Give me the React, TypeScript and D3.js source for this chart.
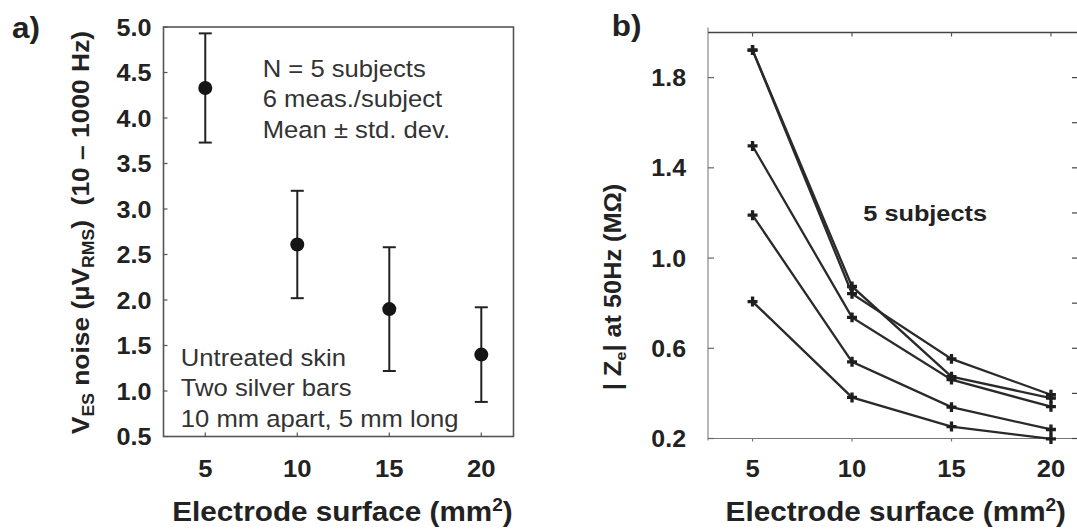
import React from "react";
import * as d3 from "d3";

// ---------- data ----------
const surfaces = [5, 10, 15, 20];
// panel a: noise (µV RMS), mean and std. dev.
const noiseMean = [4.33, 2.61, 1.9, 1.4];
const noiseStd = [0.6, 0.59, 0.68, 0.52];
const noiseTicks = [0.5, 1.0, 1.5, 2.0, 2.5, 3.0, 3.5, 4.0, 4.5, 5.0];
// panel b: |Ze| at 50 Hz (MΩ) for 5 subjects
const subject1 = [1.922, 0.874, 0.474, 0.379];
const subject2 = [1.922, 0.842, 0.553, 0.394];
const subject3 = [1.497, 0.737, 0.461, 0.341];
const subject4 = [1.19, 0.54, 0.339, 0.24];
const subject5 = [0.807, 0.382, 0.253, 0.198];
const subjects = [subject1, subject2, subject3, subject4, subject5];
const zLabelTicks = [0.2, 0.6, 1.0, 1.4, 1.8];
const zMinorTicks = [0.2, 0.4, 0.6, 0.8, 1.0, 1.2, 1.4, 1.6, 1.8];

const FONT = "'Liberation Sans', Arial, Helvetica, sans-serif";

type TProps = {
  x: number;
  y: number;
  size: number;
  bold?: boolean;
  anchor?: "start" | "middle" | "end";
  sx?: number;
  rotate?: number;
  fill?: string;
  children: React.ReactNode;
};
function T({ x, y, size, bold, anchor = "start", sx = 1.1, rotate = 0, fill = "#222", children }: TProps) {
  return (
    <g transform={`translate(${x},${y}) rotate(${rotate}) scale(${sx},1)`}>
      <text
        x={0}
        y={0}
        fontFamily={FONT}
        fontSize={size}
        fontWeight={bold ? "bold" : "normal"}
        textAnchor={anchor}
        fill={fill}
        style={{ whiteSpace: "pre" }}
      >
        {children}
      </text>
    </g>
  );
}

export default function App() {
  // ----- panel a scales -----
  const aL = 163.5, aR = 513.5, aT = 27, aB = 436.5;
  const xa = d3.scaleLinear().domain([2.73, 21.75]).range([aL, aR]);
  const ya = d3.scaleLinear().domain([0.5, 5.0]).range([aB, aT]);

  // ----- panel b scales -----
  const bL = 708, bR = 1079, bT = 32.5, bB = 438.5;
  const xb = d3.scaleLinear().domain([2.76, 21.41]).range([bL, bR]);
  const yb = d3.scaleLinear().domain([0.2, 2.0]).range([bB, bT]);
  const line = d3
    .line<number>()
    .x((_, i) => xb(surfaces[i]))
    .y((d) => yb(d));
  const cross = d3.symbol().type(d3.symbolCross).size(55)();

  const frameColor = "#555";
  const ink = "#222";

  return (
    <svg
      width={1077}
      height={529}
      style={{ position: "absolute", left: 0, top: 0, background: "#fff" }}
    >
      <rect x={0} y={0} width={1077} height={529} fill="#fff" />

      {/* ================= panel a ================= */}
      <T x={12} y={38} size={30} bold sx={1.05}>a)</T>
      <rect x={aL} y={aT} width={aR - aL} height={aB - aT} fill="none" stroke={frameColor} strokeWidth={1.6} />
      {noiseTicks.map((t) => (
        <g key={"ya" + t}>
          <line x1={aL} x2={aL + 4} y1={ya(t)} y2={ya(t)} stroke={frameColor} strokeWidth={1.2} />
          <T x={151.5} y={ya(t) + 8.5} size={23.3} bold anchor="end" sx={1.08}>
            {t.toFixed(1)}
          </T>
        </g>
      ))}
      {surfaces.map((s) => (
        <g key={"xa" + s}>
          <line x1={xa(s)} x2={xa(s)} y1={aB} y2={aB - 4} stroke={frameColor} strokeWidth={1.2} />
          <T x={xa(s)} y={476.5} size={23.3} bold anchor="middle" sx={1.1}>
            {s}
          </T>
        </g>
      ))}
      {surfaces.map((s, i) => {
        const cx = xa(s);
        const hi = ya(noiseMean[i] + noiseStd[i]);
        const lo = ya(noiseMean[i] - noiseStd[i]);
        return (
          <g key={"eb" + s}>
            <line x1={cx} x2={cx} y1={hi} y2={lo} stroke={ink} strokeWidth={2} />
            <line x1={cx - 6.5} x2={cx + 6.5} y1={hi} y2={hi} stroke={ink} strokeWidth={2} />
            <line x1={cx - 6.5} x2={cx + 6.5} y1={lo} y2={lo} stroke={ink} strokeWidth={2} />
            <circle cx={cx} cy={ya(noiseMean[i])} r={7} fill="#151515" />
          </g>
        );
      })}
      <T x={262.7} y={76.7} size={23.3} fill="#333">N = 5 subjects</T>
      <T x={262.7} y={107.3} size={23.3} fill="#333">6 meas./subject</T>
      <T x={262.7} y={138} size={23.3} fill="#333">Mean ± std. dev.</T>
      <T x={180.8} y={366} size={23.3} fill="#333">Untreated skin</T>
      <T x={180.8} y={396.4} size={23.3} fill="#333">Two silver bars</T>
      <T x={180.8} y={426.8} size={23.3} fill="#333">10 mm apart, 5 mm long</T>
      <T x={89} y={232.5} size={24} bold anchor="middle" rotate={-90} sx={1.1}>
        <tspan>V</tspan>
        <tspan fontSize={16} dy={5}>ES</tspan>
        <tspan dy={-5}>{" noise (µV"}</tspan>
        <tspan fontSize={16} dy={5}>RMS</tspan>
        <tspan dy={-5}>{")  (10 – 1000 Hz)"}</tspan>
      </T>
      <T x={342.5} y={521} size={28} bold anchor="middle" sx={1.06}>
        <tspan>Electrode surface (mm</tspan>
        <tspan fontSize={18} dy={-10}>2</tspan>
        <tspan dy={10}>)</tspan>
      </T>

      {/* ================= panel b ================= */}
      <T x={611.7} y={36} size={30} bold sx={1.05}>b)</T>
      <line x1={bL} x2={bL} y1={bT - 5} y2={bB + 2} stroke="#888" strokeWidth={1.2} />
      <line x1={bL} x2={bR} y1={bT} y2={bT} stroke="#444" strokeWidth={1.4} />
      <line x1={bL} x2={bR} y1={bB} y2={bB} stroke="#777" strokeWidth={1.2} />
      <line x1={bR} x2={bR} y1={bT} y2={bB} stroke="#444" strokeWidth={1.4} />
      {zLabelTicks.map((t) => (
        <g key={"yb" + t}>
          <line x1={bL} x2={bL + 6} y1={yb(t)} y2={yb(t)} stroke="#666" strokeWidth={1.2} />
          <T x={686} y={yb(t) + 8.5} size={23.3} bold anchor="end" sx={1.07}>
            {t.toFixed(1)}
          </T>
        </g>
      ))}
      {zMinorTicks.map((t) => (
        <line key={"ybr" + t} x1={bR - 7} x2={bR} y1={yb(t)} y2={yb(t)} stroke="#444" strokeWidth={1.2} />
      ))}
      {surfaces.map((s) => (
        <g key={"xb" + s}>
          <line x1={xb(s)} x2={xb(s)} y1={bT} y2={bT + 4} stroke="#555" strokeWidth={1.2} />
          <line x1={xb(s)} x2={xb(s)} y1={bB} y2={bB + 3} stroke="#777" strokeWidth={1.2} />
          <T x={xb(s)} y={476.5} size={23.3} bold anchor="middle" sx={1.1}>
            {s}
          </T>
        </g>
      ))}
      {subjects.map((ser, k) => (
        <g key={"s" + k}>
          <path d={line(ser) ?? ""} fill="none" stroke="#2a2a2a" strokeWidth={2.3} />
          {ser.map((v, i) => (
            <path
              key={i}
              d={cross ?? ""}
              transform={`translate(${xb(surfaces[i])},${yb(v)})`}
              fill="#1e1e1e"
            />
          ))}
        </g>
      ))}
      <T x={863.3} y={221} size={22} bold sx={1.15}>5 subjects</T>
      <T x={621} y={287} size={23} bold anchor="middle" rotate={-90} sx={1.1}>
        <tspan>| Z</tspan>
        <tspan fontSize={15} dy={5}>e</tspan>
        <tspan dy={-5}>| at 50Hz (MΩ)</tspan>
      </T>
      <T x={895.8} y={521} size={28} bold anchor="middle" sx={1.06}>
        <tspan>Electrode surface (mm</tspan>
        <tspan fontSize={18} dy={-10}>2</tspan>
        <tspan dy={10}>)</tspan>
      </T>
    </svg>
  );
}
